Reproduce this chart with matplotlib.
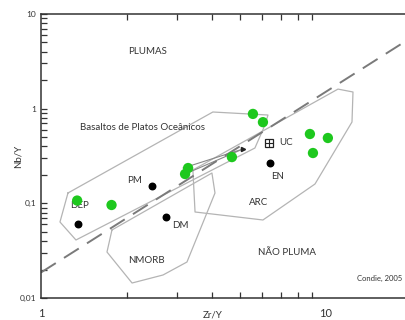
import matplotlib
matplotlib.use("Agg")
import matplotlib.pyplot as plt
from matplotlib.ticker import LogLocator, FixedLocator, NullFormatter

plt.rcParams["font.family"] = ["Lato", "DejaVu Sans"]

# amostras (verde) - Zr/Y, Nb/Y
amostras_zr_y = [1.34, 1.77, 3.29, 3.21, 4.69, 5.56, 6.03, 8.82, 10.2, 9.04]
amostras_nb_y = [0.107, 0.096, 0.236, 0.204, 0.308, 0.88, 0.72, 0.54, 0.49, 0.34]

# reservatorios de referencia (preto)
ref_nomes = ["DEP", "PM", "DM", "EN"]
ref_zr_y = [1.35, 2.46, 2.75, 6.38]
ref_nb_y = [0.0605, 0.152, 0.0718, 0.267]
uc_zr_y, uc_nb_y = 6.33, 0.433

# campos
plato_zr_y = [1.244, 4.02, 6.28, 6.13, 5.65, 1.327, 1.166]
plato_nb_y = [0.1286, 0.922, 0.857, 0.672, 0.384, 0.041, 0.0635]
arc_zr_y = [3.42, 11.07, 12.5, 12.4, 9.19, 6.03, 3.48]
arc_nb_y = [0.225, 1.61, 1.50, 0.723, 0.160, 0.0667, 0.081]
nmorb_zr_y = [1.776, 1.706, 2.09, 2.685, 3.26, 4.09, 3.99]
nmorb_nb_y = [0.0523, 0.0306, 0.0144, 0.0175, 0.024, 0.1285, 0.209]

# seta de tendencia
seta_zr_y = [3.16, 5.13, 3.21]
seta_nb_y = [0.236, 0.375, 0.204]

# limite pluma / nao pluma
limite_zr_y = [1.0, 18.7]
limite_nb_y = [0.0186, 4.94]

fig = plt.figure(figsize=(4.06, 3.2), dpi=100)
ax = fig.add_axes([41 / 406, 22 / 320, 365 / 406, 284 / 320])
ax.set_xscale("log")
ax.set_yscale("log")
ax.set_xlim(1, 19.2)
ax.set_ylim(0.01, 10)

poly_kw = dict(color="#b4b4b4", lw=0.9)
for xs, ys in [(plato_zr_y, plato_nb_y), (arc_zr_y, arc_nb_y), (nmorb_zr_y, nmorb_nb_y)]:
    ax.plot(xs + xs[:1], ys + ys[:1], **poly_kw)

ax.plot(seta_zr_y, seta_nb_y, color="#888888", lw=0.8)
ax.plot(seta_zr_y[1], seta_nb_y[1], marker=">", color="#222222", ms=3)

ax.plot(limite_zr_y, limite_nb_y, color="#7a7a7a", lw=1.4, dashes=(9, 5))

ax.scatter(amostras_zr_y, amostras_nb_y, s=55, color="#1ec81e", edgecolors="none", zorder=4)
ax.scatter(ref_zr_y, ref_nb_y, s=22, color="black", zorder=4)
ax.plot(uc_zr_y, uc_nb_y, marker="s", ms=6, mfc="white", mec="#222222", mew=0.9, zorder=4)
ax.plot(uc_zr_y, uc_nb_y, marker="+", ms=6, color="#222222", mew=0.8, zorder=5)

txt = dict(fontsize=7, color="#333333", ha="center", va="center")
ax.text(2.377, 3.97, "PLUMAS", **txt)
ax.text(2.28, 0.625, "Basaltos de Platos Oceânicos", **txt)
ax.text(2.14, 0.176, "PM", **txt)
ax.text(1.371, 0.0938, "DEP", **txt)
ax.text(3.08, 0.059, "DM", **txt)
ax.text(6.81, 0.19, "EN", **txt)
ax.text(7.26, 0.434, "UC", **txt)
ax.text(5.84, 0.101, "ARC", **txt)
ax.text(7.32, 0.0299, "NÃO PLUMA", **txt)
ax.text(2.34, 0.0246, "NMORB", **txt)
ax.text(18.7, 0.0159, "Condie, 2005", fontsize=5.5, color="#333333", ha="right", va="center")

for s in ["left", "bottom", "top"]:
    ax.spines[s].set_color("#333333")
    ax.spines[s].set_linewidth(1.1)
ax.spines["right"].set_visible(False)

ax.xaxis.set_major_locator(FixedLocator([1, 10]))
ax.set_xticklabels(["1", "10"])
ax.xaxis.set_minor_locator(LogLocator(base=10, subs=range(2, 10)))
ax.xaxis.set_minor_formatter(NullFormatter())
ax.yaxis.set_major_locator(FixedLocator([0.01, 0.1, 1, 10]))
ax.set_yticklabels(["0,01", "0,1", "1", "10"])
ax.yaxis.set_minor_locator(LogLocator(base=10, subs=range(2, 10)))
ax.yaxis.set_minor_formatter(NullFormatter())

ax.tick_params(axis="x", which="both", direction="in", top=True, length=4, width=0.9,
               color="#333333", pad=7, labelsize=8, labelcolor="#333333")
ax.tick_params(axis="x", which="major", length=0)
ax.tick_params(axis="y", which="both", direction="in", right=False, length=4, width=0.9,
               color="#333333", labelsize=6, labelcolor="#333333")

fig.text(213 / 406, 1 - 319 / 320, "Zr/Y", fontsize=7, color="#333333", ha="center", va="bottom")
fig.text(18 / 406, 1 - 156 / 320, "Nb/Y", fontsize=7, color="#333333", ha="center", va="center",
         rotation=90)

fig.savefig("out.png", dpi=100)
